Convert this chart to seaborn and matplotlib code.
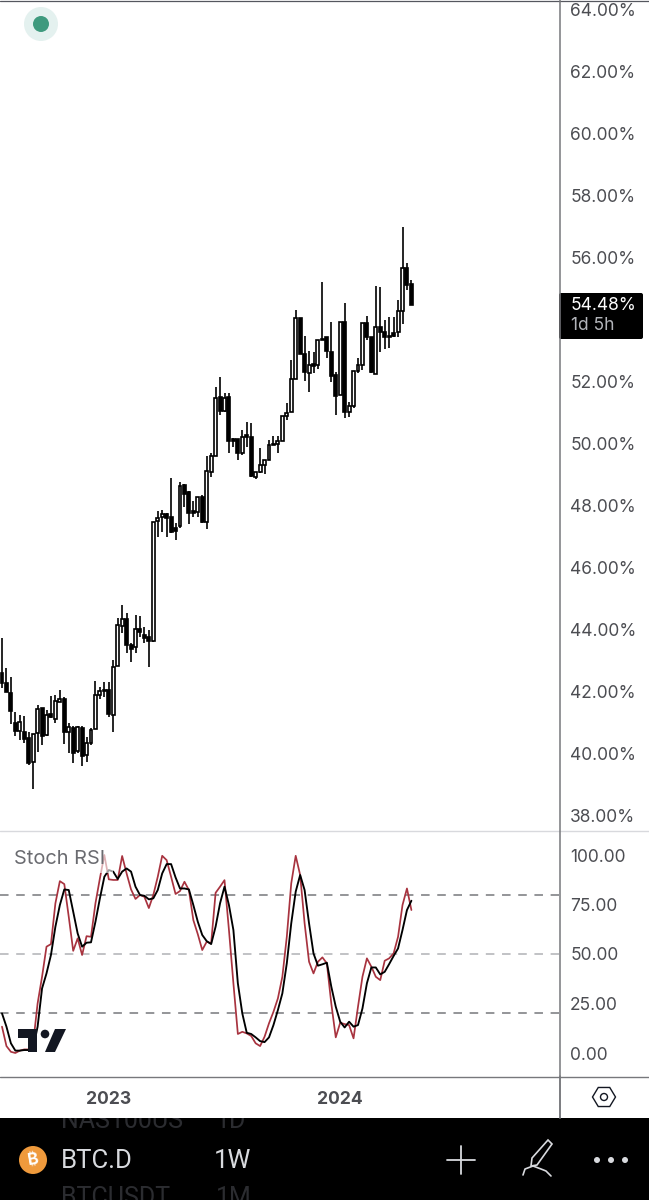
"""
BTC.D weekly candles with Stoch RSI pane, phone chart screenshot look.
"""
import matplotlib
matplotlib.use('Agg')
import matplotlib.pyplot as plt
from matplotlib.patches import Circle, FancyBboxPatch, Polygon, Rectangle
import numpy as np
import pandas as pd
import seaborn as sns

opens = [42.60, 42.28, 41.97, 41.01, 40.75, 40.71, 40.50, 39.75, 40.69, 41.47,
         40.60, 41.28, 41.12, 41.69, 41.79, 40.70, 40.83, 40.10, 40.84, 39.98,
         40.36, 40.81, 41.91, 42.08, 42.06, 41.27, 42.84, 44.14, 44.37, 43.51,
         43.44, 44.04, 43.84, 43.78, 43.64, 47.52, 47.65, 47.74, 47.66, 47.28,
         47.36, 48.68, 48.44, 47.85, 47.82, 48.28, 47.50, 49.11, 49.62, 51.50,
         51.08, 51.50, 50.15, 50.15, 49.70, 50.29, 50.22, 48.95, 49.10, 49.31,
         49.48, 50.00, 50.00, 50.10, 50.90, 51.04, 52.10, 54.05, 52.90, 52.28,
         52.58, 52.54, 53.40, 53.46, 52.97, 52.22, 51.58, 53.95, 51.04, 51.22,
         52.36, 52.55, 53.91, 53.44, 52.25, 53.79, 53.60, 53.50, 53.57, 53.60,
         54.30, 55.69, 55.15]
highs = [43.73, 42.78, 42.47, 41.36, 41.26, 41.22, 40.72, 40.66, 41.58, 41.47,
         41.42, 41.87, 41.90, 42.08, 41.83, 40.99, 40.90, 40.91, 40.91, 40.56,
         40.83, 42.35, 42.15, 42.33, 42.33, 43.03, 44.39, 44.80, 44.56, 43.57,
         44.48, 44.45, 44.10, 44.00, 47.50, 47.85, 47.87, 47.76, 48.89, 47.44,
         48.78, 48.72, 48.49, 48.15, 48.30, 48.35, 49.62, 49.72, 51.85, 52.17,
         51.66, 51.66, 50.20, 50.15, 50.45, 50.72, 50.67, 49.10, 49.86, 49.50,
         50.13, 50.26, 50.26, 50.90, 51.33, 52.71, 54.32, 54.05, 53.48, 53.01,
         52.98, 53.35, 55.24, 53.46, 53.92, 52.33, 53.95, 54.54, 51.36, 52.36,
         52.76, 53.91, 54.13, 53.44, 55.10, 55.07, 54.00, 54.09, 54.09, 54.65,
         57.01, 55.85, 55.29]
lows = [42.12, 42.01, 40.96, 40.58, 40.45, 40.36, 39.64, 38.86, 40.05, 40.29,
        40.58, 41.15, 41.01, 41.68, 40.32, 40.04, 39.70, 40.02, 39.61, 39.75,
        40.29, 40.80, 41.76, 41.85, 41.20, 40.72, 42.84, 43.91, 43.27, 42.98,
        43.27, 43.78, 43.59, 42.81, 43.60, 47.01, 47.17, 47.00, 47.12, 46.90,
        47.28, 47.98, 47.42, 47.66, 47.66, 47.44, 47.25, 48.93, 49.62, 50.94,
        51.04, 49.72, 49.90, 49.48, 49.65, 49.90, 48.95, 48.86, 49.05, 49.03,
        49.48, 49.97, 49.70, 50.10, 50.77, 51.02, 52.10, 52.90, 52.03, 51.69,
        52.30, 52.42, 53.35, 52.76, 52.01, 50.92, 51.58, 50.83, 50.88, 51.15,
        52.30, 52.39, 53.35, 52.30, 52.25, 52.98, 53.05, 53.09, 53.45, 53.46,
        53.87, 54.97, 54.48]
closes = [42.28, 42.01, 41.40, 40.75, 41.04, 40.50, 39.72, 40.66, 41.44, 40.58,
          41.26, 41.18, 41.72, 41.79, 40.70, 40.86, 40.02, 40.86, 39.95, 40.36,
          40.77, 41.89, 42.04, 42.03, 41.29, 42.81, 44.15, 44.37, 43.51, 43.40,
          44.02, 43.94, 43.73, 43.64, 47.47, 47.62, 47.74, 47.60, 47.17, 47.20,
          48.65, 48.39, 47.79, 47.79, 48.28, 47.50, 49.13, 49.62, 51.47, 51.08,
          51.47, 50.11, 50.10, 49.70, 50.24, 50.22, 48.98, 49.10, 49.31, 49.48,
          49.96, 49.98, 50.10, 50.90, 51.01, 52.10, 54.05, 52.90, 52.31, 52.55,
          52.52, 53.35, 53.35, 53.01, 52.19, 51.56, 53.95, 51.04, 51.22, 52.36,
          52.55, 53.91, 53.44, 52.31, 53.79, 53.60, 53.46, 53.44, 53.48, 54.29,
          55.69, 55.13, 54.48]

stoch_k = [13.3, 3.5, 0.6, 0.0, 1.2, 1.8, 1.8, 4.9, 25.0, 38.5,
           53.7, 55.0, 75.6, 86.8, 85.3, 68.8, 51.6, 57.9, 49.5, 59.0,
           58.7, 75.6, 88.2, 100.0, 87.7, 87.4, 87.4, 99.5, 90.7, 82.6,
           77.8, 79.8, 78.9, 73.2, 79.8, 89.0, 99.6, 97.4, 89.0, 80.3,
           81.8, 86.5, 82.3, 67.1, 60.0, 52.0, 56.2, 55.4, 80.9, 84.0,
           87.3, 62.1, 35.2, 9.6, 10.7, 9.9, 8.6, 4.9, 3.5, 8.2,
           15.0, 20.8, 27.6, 38.5, 58.7, 85.7, 99.6, 89.9, 65.5, 46.1,
           40.2, 46.1, 48.3, 45.3, 25.0, 7.9, 15.3, 14.6, 14.1, 7.4,
           23.4, 38.5, 47.8, 43.6, 38.5, 36.8, 46.6, 47.8, 50.3, 58.7,
           74.7, 83.1, 72.2]
stoch_d = [20.0, 13.3, 4.9, 1.2, 1.2, 1.5, 1.5, 2.3, 13.3, 32.6,
           40.2, 49.5, 63.8, 74.7, 82.6, 82.3, 71.4, 60.4, 53.7, 55.7,
           55.9, 66.3, 78.1, 89.0, 92.4, 91.6, 87.9, 91.6, 93.2, 91.6,
           84.0, 79.8, 79.4, 77.6, 78.1, 82.3, 90.7, 95.4, 95.4, 88.7,
           83.1, 83.1, 82.6, 74.7, 66.3, 59.6, 56.5, 55.0, 63.8, 75.6,
           84.0, 74.7, 62.1, 35.2, 20.0, 10.2, 9.6, 7.9, 6.0, 5.5,
           7.9, 14.1, 21.7, 30.1, 45.3, 65.5, 81.5, 89.9, 82.3, 65.5,
           50.3, 44.1, 44.8, 45.6, 33.5, 23.4, 15.8, 12.9, 15.8, 13.3,
           14.1, 22.5, 35.2, 43.2, 43.2, 39.7, 41.0, 44.9, 49.0, 52.8,
           62.1, 72.2, 76.9]

price_ticks = [38, 40, 42, 44, 46, 48, 50, 52, 54, 56, 58, 60, 62, 64]
stoch_ticks = [0, 25, 50, 75, 100]
year_ticks = [24, 76]
year_labels = ['2023', '2024']
stoch_bands = [20, 50, 80]

W, H = 649, 1200
TEXT_COL = '#4c4d52'
AXIS_COL = '#77787c'


def px_rect(left, top, right, bottom):
    return [left / W, 1 - bottom / H, (right - left) / W, (bottom - top) / H]


sns.set_theme(style='white')
plt.rcParams['font.family'] = ['Inter', 'Roboto', 'DejaVu Sans']

candles = pd.DataFrame({'open': opens, 'high': highs, 'low': lows, 'close': closes})
candles['idx'] = np.arange(len(candles))
stoch = pd.DataFrame({'idx': np.arange(len(stoch_k)), 'k': stoch_k, 'd': stoch_d})

fig = plt.figure(figsize=(W / 100, H / 100), dpi=100, facecolor='white')

# bar spacing is 4.45 px, first candle at x=2
xlim = (-2 / 4.45, (559 - 2) / 4.45)

# Price pane
ax = fig.add_axes(px_rect(0, 0, 559, 830))
ax.vlines(candles['idx'], candles['low'], candles['high'], color='black', linewidth=1.2, zorder=2)
up = candles['close'] >= candles['open']
ax.bar(candles['idx'], (candles['close'] - candles['open']).abs(),
       bottom=candles[['open', 'close']].min(axis=1), width=0.66,
       color=['white' if u else 'black' for u in up], edgecolor='black', linewidth=1.2, zorder=3)
ax.set_xlim(xlim)
ax.set_ylim(64 - 820 / 31, 64 + 10 / 31)
ax.set_xticks([])
ax.yaxis.tick_right()
ax.set_yticks(price_ticks)
ax.set_yticklabels([f'{p:.2f}%' for p in price_ticks], fontsize=12.5, color=TEXT_COL)
ax.tick_params(axis='y', length=0, pad=8)
sns.despine(ax=ax, left=True, bottom=True, right=True, top=True)

# Stoch RSI pane
ax2 = fig.add_axes(px_rect(0, 831, 559, 1076))
for level in stoch_bands:
    ax2.axhline(level, color='#b0b1b5' if level == 50 else AXIS_COL, linewidth=1.1,
                dashes=(5.6, 5.0), zorder=1)
sns.lineplot(data=stoch, x='idx', y='k', color='#a8333f', linewidth=1.25, ax=ax2, zorder=2, errorbar=None)
sns.lineplot(data=stoch, x='idx', y='d', color='black', linewidth=1.35, ax=ax2, zorder=3, errorbar=None)
ax2.set_xlim(xlim)
ax2.set_ylim((1053 - 1076) / 1.98, (1053 - 831) / 1.98)
ax2.set_xlabel('')
ax2.set_ylabel('')
ax2.yaxis.tick_right()
ax2.set_yticks(stoch_ticks)
ax2.set_yticklabels([f'{v:.2f}' for v in stoch_ticks], fontsize=12.5, color=TEXT_COL)
ax2.tick_params(axis='y', length=0, pad=8)
ax2.set_xticks(year_ticks)
ax2.set_xticklabels(year_labels, fontsize=12.6, color=TEXT_COL, fontweight='bold')
ax2.tick_params(axis='x', length=0, pad=10.5)
sns.despine(ax=ax2, left=True, bottom=True, right=True, top=True)

# Screen furniture in pixel coordinates
ui = fig.add_axes([0, 0, 1, 1], zorder=5)
ui.set_xlim(0, W)
ui.set_ylim(H, 0)
ui.axis('off')
ui.patch.set_alpha(0)

# label box fades the lines a bit
ui.add_patch(Rectangle((10, 846), 103, 27, facecolor='white', alpha=0.62, linewidth=0))
ui.text(14, 859, 'Stoch RSI', fontsize=14.4, color='#6a6b70', va='center', ha='left')

# separators
ui.plot([0, W], [0.5, 0.5], color='#55575f', linewidth=0.9)
ui.plot([0, W], [830.5, 830.5], color='#d8d9dd', linewidth=1)
ui.plot([0, W], [1076.5, 1076.5], color=AXIS_COL, linewidth=1)
ui.plot([559.5, 559.5], [0, 1118], color=AXIS_COL, linewidth=1.1)

# status dot
ui.add_patch(Circle((41, 24), 17, facecolor='#e4f1ef', linewidth=0))
ui.add_patch(Circle((41, 24), 8, facecolor='#3f9a7e', linewidth=0))

# TradingView logo
LOGO = '#131722'
ui.add_patch(Polygon([(18, 1029), (37, 1029), (37, 1052), (28, 1052), (28, 1038), (18, 1038)],
                     facecolor=LOGO, linewidth=0))
ui.add_patch(Circle((45, 1034), 4.3, facecolor=LOGO, linewidth=0))
ui.add_patch(Polygon([(55, 1029), (66, 1029), (55, 1052), (45, 1052)], facecolor=LOGO, linewidth=0))

# last price tag
ui.add_patch(FancyBboxPatch((559, 293), 84, 46, boxstyle='round,pad=0,rounding_size=2',
                            facecolor='black', linewidth=0))
ui.text(571, 305, '54.48%', fontsize=12.5, color='white', va='center', ha='left')
ui.text(571, 326, '1d 5h', fontsize=12.5, color='#b3b5ba', va='center', ha='left')

# hex settings button
hex_t = np.deg2rad(np.arange(0, 360, 60))
ui.add_patch(Polygon(np.column_stack([604 + 11.5 * np.cos(hex_t), 1097 + 11 * np.sin(hex_t)]),
                     facecolor='none', edgecolor='#131722', linewidth=1))
ui.add_patch(Circle((604, 1097), 3.5, facecolor='none', edgecolor='#131722', linewidth=1))

# bottom bar
ui.add_patch(Rectangle((0, 1118), W, 82, facecolor='black', linewidth=0))
ui.plot([559.5, 559.5], [1076, 1118], color=AXIS_COL, linewidth=1.1)
for txt, x, y in [('NAS100US', 61, 1121), ('1D', 216, 1121), ('BTCUSDT', 61, 1198), ('1M', 216, 1198)]:
    t = ui.text(x, y, txt, fontsize=18, fontfamily='Roboto', color='#2b2c30', va='center', ha='left')
    t.set_clip_on(True)
    t.set_clip_path(Rectangle((0, 1118), 184 if txt == 'NAS100US' else W, 82, transform=ui.transData))

ui.add_patch(Circle((33, 1160), 14, facecolor='#ef9a3c', linewidth=0))
ui.text(33, 1160, '₿', fontsize=12, family=['Inter', 'Noto Sans', 'Open Sans', 'Lato', 'Roboto', 'Liberation Sans'],
        fontweight='bold', color='white', va='center', ha='center', rotation=10)
ui.text(61, 1161, 'BTC.D', fontsize=18.5, fontfamily='Roboto', color='#d8dade', va='center', ha='left')
ui.text(214, 1161, '1W', fontsize=18.5, fontfamily='Roboto', color='#d8dade', va='center', ha='left')

# plus, pen, dots
ui.plot([447, 475], [1160, 1160], color='#d8dade', linewidth=1.3)
ui.plot([461, 461], [1146, 1174], color='#d8dade', linewidth=1.3)
ui.add_patch(Polygon([(532, 1158), (548, 1140), (552, 1144), (537, 1165), (531, 1166)],
                     facecolor='none', edgecolor='#d8dade', linewidth=1.2))
ui.plot([523, 525, 533, 541, 546, 551], [1175, 1169, 1166, 1169, 1171, 1176], color='#d8dade', linewidth=1.2)
for cx in [597, 611, 625]:
    ui.add_patch(Circle((cx, 1160), 3, facecolor='#d8dade', linewidth=0))

fig.savefig('out.png', dpi=100, facecolor='white')
plt.close(fig)
